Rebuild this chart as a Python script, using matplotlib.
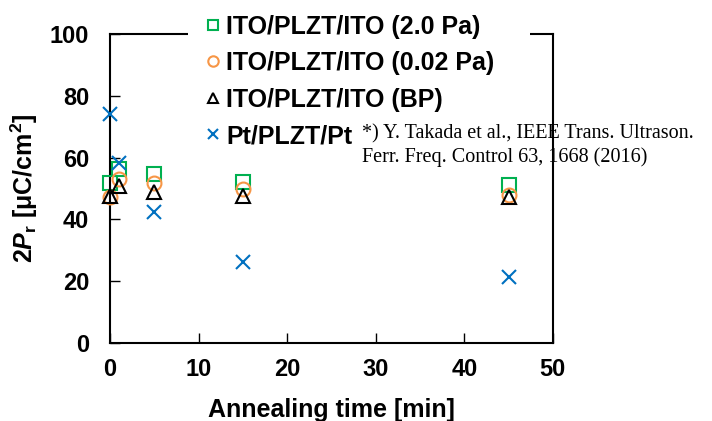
import matplotlib
matplotlib.use("Agg")
import matplotlib.pyplot as plt
from matplotlib.patches import Rectangle

plt.rcParams['font.family'] = ['Liberation Sans', 'DejaVu Sans']
plt.rcParams['mathtext.fontset'] = 'custom'
plt.rcParams['mathtext.rm'] = 'Liberation Sans:bold'
plt.rcParams['mathtext.it'] = 'Liberation Sans:bold:italic'
plt.rcParams['mathtext.bf'] = 'Liberation Sans:bold'

time_min = [0, 1, 5, 15, 45]
ito_20pa = [51.8, 56.3, 54.7, 52.1, 51.1]
ito_002pa = [47.2, 53.1, 51.8, 49.8, 47.9]
ito_bp = [47.6, 50.8, 48.9, 47.6, 47.2]
pt = [74.1, 58.3, 42.4, 26.2, 21.4]

labels = ['ITO/PLZT/ITO (2.0 Pa)', 'ITO/PLZT/ITO (0.02 Pa)', 'ITO/PLZT/ITO (BP)', 'Pt/PLZT/Pt']
xticks = [0, 10, 20, 30, 40, 50]
yticks = [0, 20, 40, 60, 80, 100]

W, H = 712, 421
fig = plt.figure(figsize=(W / 100, H / 100), dpi=100)
ax = fig.add_axes([0.1545, 0.1853, 0.622, 0.7337])

ms = 9.5
ax.plot(time_min, ito_20pa, ls='none', marker='s', ms=ms, mfc='none', mec='#00B050', mew=1.5, label=labels[0], clip_on=False, zorder=3)
ax.plot(time_min, ito_002pa, ls='none', marker='o', ms=ms + 0.5, mfc='none', mec='#F79646', mew=1.5, label=labels[1], clip_on=False, zorder=3)
ax.plot(time_min, ito_bp, ls='none', marker='^', ms=ms + 0.5, mfc='none', mec='black', mew=1.5, label=labels[2], clip_on=False, zorder=3)
ax.plot(time_min, pt, ls='none', marker='x', ms=ms + 0.5, mec='#0070C0', mew=1.5, label=labels[3], clip_on=False, zorder=3)

ax.set_xlim(0, 50)
ax.set_ylim(0, 100)
ax.set_xticks(xticks)
ax.set_yticks(yticks)
ax.tick_params(direction='in', length=7, width=1, labelsize=17)
ax.tick_params(axis='x', pad=11)
ax.tick_params(axis='y', pad=15)
for lab in ax.get_xticklabels() + ax.get_yticklabels():
    lab.set_fontweight('bold')
for sp in ax.spines.values():
    sp.set_linewidth(1.5)

ax.set_xlabel('Annealing time [min]', fontsize=18, fontweight='bold', labelpad=12)
ax.set_ylabel('2$\\mathit{P}_\\mathrm{r}$ [μC/cm$^\\mathrm{2}$]', fontsize=18, fontweight='bold', labelpad=7)

# white background area of the legend (covers part of top frame, as in the original)
fig.patches.append(Rectangle((188 / W, 1 - 48 / H), (530 - 188) / W, 30 / H,
                             transform=fig.transFigure, facecolor='white',
                             edgecolor='none', zorder=1))

leg = fig.legend(loc='upper left', bbox_to_anchor=(0.261, 1.013), frameon=True,
                 prop={'size': 18, 'weight': 'bold'}, markerscale=0.75,
                 handlelength=0.6, handletextpad=0.22, labelspacing=0.50,
                 borderpad=0.3, fancybox=False)
leg.get_frame().set_edgecolor('none')
leg.get_frame().set_facecolor('white')
leg.get_frame().set_alpha(1)

fig.text(0.508, 0.654, '*) Y. Takada et al., IEEE Trans. Ultrason.\nFerr. Freq. Control 63, 1668 (2016)',
         fontsize=14.5, family='Liberation Serif', va='center', ha='left', linespacing=1.25,
         zorder=10)

fig.savefig('out.png', dpi=100)
